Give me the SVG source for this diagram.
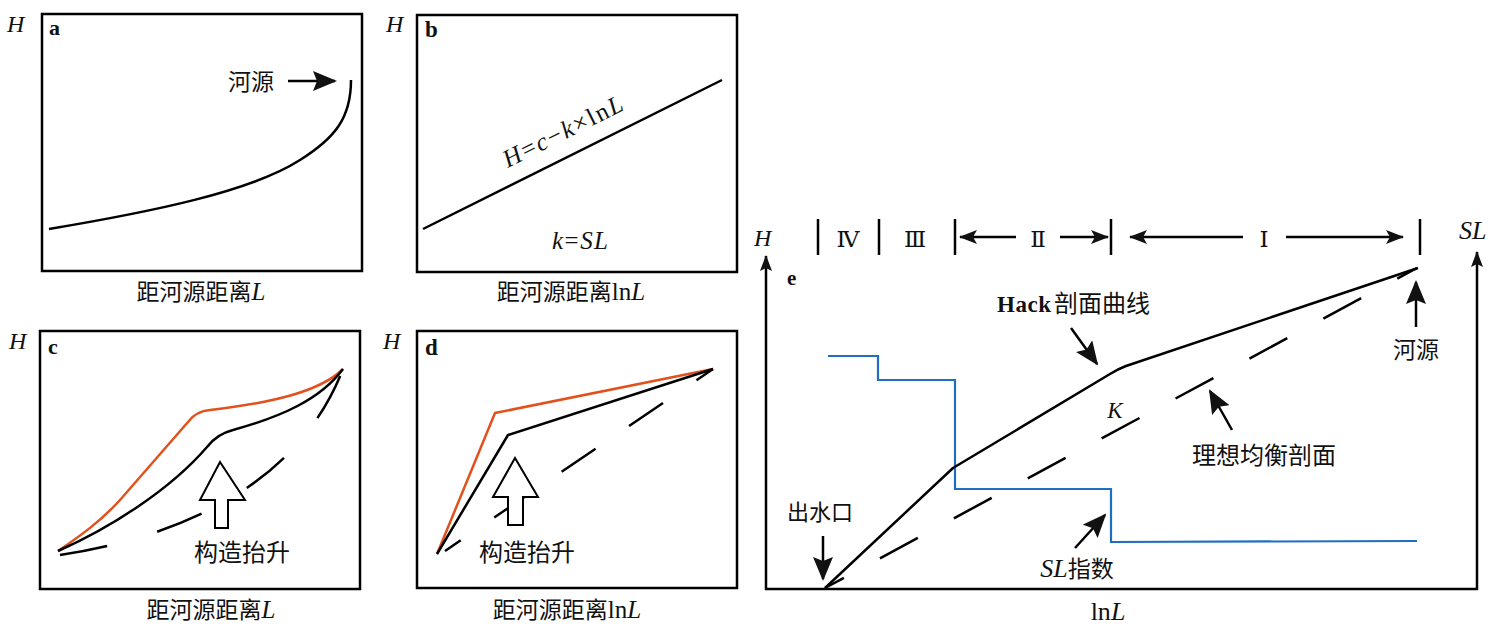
<svg xmlns="http://www.w3.org/2000/svg" width="1500" height="630" viewBox="0 0 1500 630">
<style>
.box{fill:none;stroke:#000;stroke-width:2.5}
.ln{fill:none;stroke:#000;stroke-width:2.5;stroke-linecap:butt;stroke-linejoin:round}
.red{fill:none;stroke:#e2501c;stroke-width:2.5;stroke-linejoin:round}
.blue{fill:none;stroke:#1f6fc0;stroke-width:2.2}
.dash{fill:none;stroke:#000;stroke-width:2.5}
.hollow{fill:#fff;stroke:#000;stroke-width:2}
.cn{font-family:"Liberation Serif","Noto Sans CJK SC",serif;fill:#111}
.it{font-family:"Liberation Serif",serif;font-style:italic;fill:#111}
.lt{font-family:"Liberation Serif",serif;fill:#111}
.pl{font-family:"Liberation Serif",serif;font-weight:bold;fill:#111}
.rn{font-family:"DejaVu Serif","Liberation Serif","Noto Sans CJK SC",serif;fill:#111}
</style>
<defs>
<marker id="big" viewBox="0 0 24 20" refX="22" refY="10" markerWidth="24" markerHeight="20" orient="auto" markerUnits="userSpaceOnUse">
<path d="M0,0 L24,10 L0,20 L4,10 z" fill="#111"/>
</marker>
<marker id="mid" viewBox="0 0 18 14" refX="17" refY="7" markerWidth="18" markerHeight="14" orient="auto" markerUnits="userSpaceOnUse">
<path d="M0,0 L18,7 L0,14 L4,7 z" fill="#111"/>
</marker>
<marker id="ax" viewBox="0 0 16 12" refX="15" refY="6" markerWidth="16" markerHeight="12" orient="auto" markerUnits="userSpaceOnUse">
<path d="M0,0 L16,6 L0,12 L3,6 z" fill="#111"/>
</marker>
</defs>

<!-- Panel a -->
<g id="panel-a">
<rect class="box" x="42" y="14" width="320" height="257"/>
<text class="it" x="7" y="32" font-size="24">H</text>
<text class="pl" x="49" y="35" font-size="22">a</text>
<path class="ln" d="M49,229 C150,212 250,192 300,160 C335,138 351,118 351,80"/>
<text class="cn" x="228" y="90" font-size="23">河源</text>
<line class="ln" x1="288" y1="81" x2="335" y2="81" stroke-width="4" marker-end="url(#big)"/>
<text class="cn" x="201" y="300" font-size="23" text-anchor="middle">距河源距离<tspan class="it" font-size="25">L</tspan></text>
</g>

<!-- Panel b -->
<g id="panel-b">
<rect class="box" x="417" y="15" width="320" height="257"/>
<text class="it" x="386" y="32" font-size="24">H</text>
<text class="pl" x="425" y="37" font-size="23">b</text>
<line class="ln" x1="423" y1="229" x2="722" y2="80"/>
<text class="lt" font-size="25" x="-65" y="0" textLength="131" lengthAdjust="spacing" transform="translate(566,139) rotate(-26.5)"><tspan font-style="italic">H</tspan>=<tspan font-style="italic">c</tspan>−<tspan font-style="italic">k</tspan>×ln<tspan font-style="italic">L</tspan></text>
<text class="it" x="552" y="249" font-size="25" textLength="56" lengthAdjust="spacing">k<tspan font-style="normal">=</tspan>SL</text>
<text class="cn" x="571" y="300" font-size="23" text-anchor="middle">距河源距离<tspan class="lt" font-size="25">ln</tspan><tspan class="it" font-size="25">L</tspan></text>
</g>

<!-- Panel c -->
<g id="panel-c">
<rect class="box" x="40" y="331" width="320" height="258"/>
<text class="it" x="9" y="349" font-size="24">H</text>
<text class="pl" x="48" y="354" font-size="22">c</text>
<path class="red" d="M58,551 C80,536 100,522 120,500 L188,422 Q196,411 210,410 C270,403 320,392 343,369"/>
<path class="ln" d="M58,551 C110,528 170,490 207,447 Q217,434 233,430 C280,417 320,400 343,369"/>
<path class="dash" d="M60,555 C190,535 300,480 343,369" stroke-dasharray="48 52"/>
<path class="hollow" d="M220,462 L245,500 L228,500 L228,528 L215,528 L215,500 L200,500 Z"/>
<text class="cn" x="242" y="561" font-size="24" text-anchor="middle">构造抬升</text>
<text class="cn" x="211" y="618" font-size="23" text-anchor="middle">距河源距离<tspan class="it" font-size="25">L</tspan></text>
</g>

<!-- Panel d -->
<g id="panel-d">
<rect class="box" x="417" y="331" width="320" height="257"/>
<text class="it" x="383" y="349" font-size="24">H</text>
<text class="pl" x="425" y="355" font-size="23">d</text>
<polyline class="red" points="437,554 495,413 713,369"/>
<polyline class="ln" points="437,554 508,435 713,369"/>
<line class="dash" x1="445" y1="551" x2="713" y2="369" stroke-dasharray="41 40.5" stroke-dashoffset="22"/>
<path class="hollow" d="M515,458 L538,497 L523,497 L523,525 L508,525 L508,497 L493,497 Z"/>
<text class="cn" x="527" y="561" font-size="24" text-anchor="middle">构造抬升</text>
<text class="cn" x="567" y="618" font-size="23" text-anchor="middle">距河源距离<tspan class="lt" font-size="25">ln</tspan><tspan class="it" font-size="25">L</tspan></text>
</g>

<!-- Panel e -->
<g id="panel-e">
<g id="e-axes">
<line class="ln" x1="766" y1="590" x2="766" y2="256" marker-end="url(#ax)"/>
<line class="ln" x1="1477" y1="590" x2="1477" y2="252" marker-end="url(#ax)"/>
<line class="ln" x1="765" y1="589" x2="1478" y2="589"/>
<text class="it" x="754" y="246" font-size="24">H</text>
<text class="it" x="1459" y="239" font-size="26">SL</text>
<text class="pl" x="787" y="285" font-size="21">e</text>
<text class="lt" x="1108" y="620" font-size="26" text-anchor="middle">ln<tspan font-style="italic">L</tspan></text>
</g>
<g id="e-zones">
<line class="ln" x1="818" y1="219" x2="818" y2="255"/>
<line class="ln" x1="879" y1="219" x2="879" y2="255"/>
<line class="ln" x1="955" y1="219" x2="955" y2="255"/>
<line class="ln" x1="1111" y1="219" x2="1111" y2="255"/>
<line class="ln" x1="1420" y1="219" x2="1420" y2="255"/>
<text class="rn" x="848" y="247" font-size="23" text-anchor="middle">Ⅳ</text>
<text class="rn" x="915" y="247" font-size="23" text-anchor="middle">Ⅲ</text>
<text class="rn" x="1038" y="247" font-size="23" text-anchor="middle">Ⅱ</text>
<text class="rn" x="1264" y="247" font-size="23" text-anchor="middle">Ⅰ</text>
<line class="ln" x1="1016" y1="237" x2="960" y2="237" marker-end="url(#mid)"/>
<line class="ln" x1="1060" y1="237" x2="1108" y2="237" marker-end="url(#mid)"/>
<line class="ln" x1="1243" y1="237" x2="1130" y2="237" marker-end="url(#mid)"/>
<line class="ln" x1="1286" y1="237" x2="1403" y2="237" marker-end="url(#mid)"/>
</g>
<g id="e-curves">
<polyline class="blue" points="828,356 878,356 878,380 955,380 955,489 1111,489 1111,542 1417,541"/>
<path class="ln" d="M825,588 L953,468 L1110,374 Q1118,369 1126,366 L1418,268"/>
<line class="dash" x1="825" y1="588" x2="1417" y2="268" stroke-dasharray="43 41" stroke-dashoffset="21.5"/>
</g>
<g id="e-labels">
<text class="pl" x="997" y="312" font-size="23" textLength="54" lengthAdjust="spacing">Hack</text>
<text class="cn" x="1054" y="312" font-size="24">剖面曲线</text>
<line class="ln" x1="1071" y1="328" x2="1097" y2="364" stroke-width="4" marker-end="url(#big)"/>
<text class="it" x="1115" y="418" font-size="23" text-anchor="middle">K</text>
<text class="cn" x="1416" y="358" font-size="23" text-anchor="middle">河源</text>
<line class="ln" x1="1416" y1="327" x2="1416" y2="282" stroke-width="4" marker-end="url(#big)"/>
<text class="cn" x="1264" y="464" font-size="24" text-anchor="middle">理想均衡剖面</text>
<line class="ln" x1="1232" y1="430" x2="1210" y2="391" stroke-width="4" marker-end="url(#big)"/>
<text class="cn" x="1077" y="577" font-size="23" text-anchor="middle"><tspan class="it" font-size="26">SL</tspan>指数</text>
<line class="ln" x1="1075" y1="548" x2="1105" y2="515" stroke-width="4" marker-end="url(#big)"/>
<text class="cn" x="820" y="520" font-size="22" text-anchor="middle">出水口</text>
<line class="ln" x1="823" y1="536" x2="823" y2="579" stroke-width="4" marker-end="url(#big)"/>
</g>
</g>
</svg>
